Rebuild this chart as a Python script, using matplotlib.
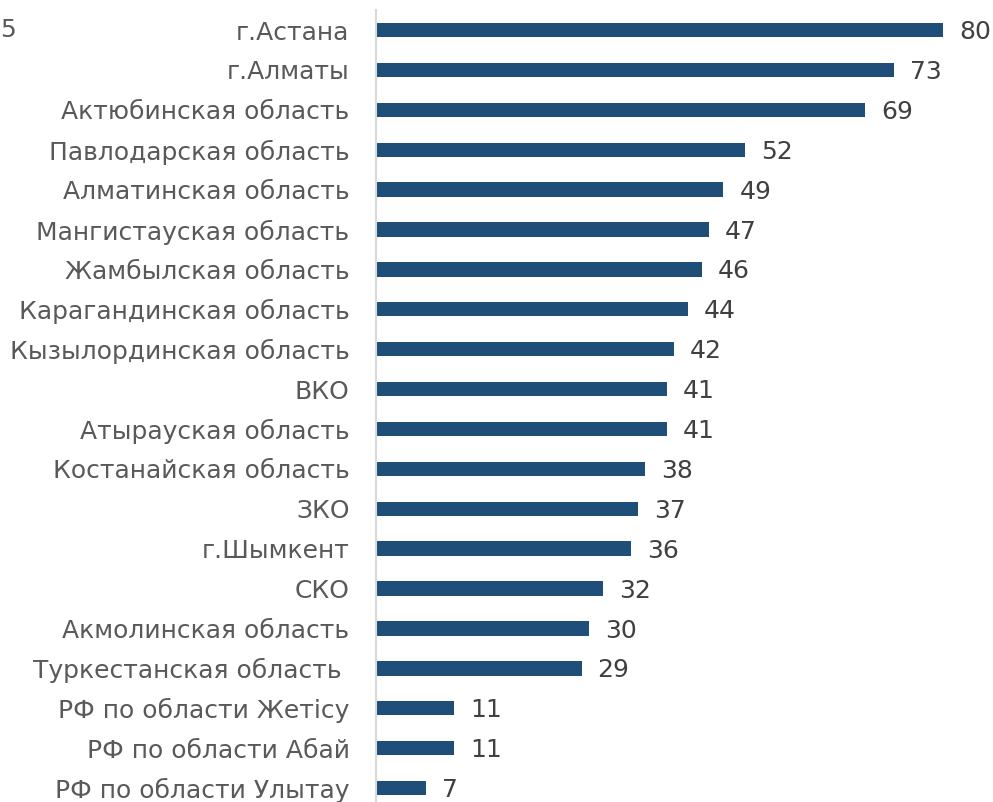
import matplotlib.pyplot as plt

regions = [
    'г.Астана', 'г.Алматы', 'Актюбинская область', 'Павлодарская область',
    'Алматинская область', 'Мангистауская область', 'Жамбылская область',
    'Карагандинская область', 'Кызылординская область', 'ВКО',
    'Атырауская область', 'Костанайская область', 'ЗКО', 'г.Шымкент', 'СКО',
    'Акмолинская область', 'Туркестанская область ', 'РФ по области Жетісу',
    'РФ по области Абай', 'РФ по области Улытау',
]
values = [80, 73, 69, 52, 49, 47, 46, 44, 42, 41, 41, 38, 37, 36, 32, 30, 29, 11, 11, 7]

plt.rcParams['font.family'] = ['DejaVu Sans']

fig = plt.figure(figsize=(9.93, 8.02), dpi=100)
ax = fig.add_axes([376 / 993, 0, (983 - 376) / 993, 1])

pos = list(range(len(regions)))
ax.barh(pos, values, height=0.36, color='#1F4E79')

for p, v in zip(pos, values):
    ax.annotate(str(v), (v, p), xytext=(11.5, -1.5), textcoords='offset points',
                va='center', ha='left', fontsize=18, color='#404040')

ax.set_xlim(0, (983 - 376) / 7.09)
ax.set_ylim(19.35, -0.752)
ax.set_yticks(pos)
ax.set_yticklabels(regions, fontsize=18, color='#595959')
ax.tick_params(axis='y', length=0, pad=19)
ax.set_xticks([])
for s in ['top', 'right', 'bottom']:
    ax.spines[s].set_visible(False)
ax.spines['left'].set_color('#D9D9D9')
ax.spines['left'].set_linewidth(1.5)
ax.spines['left'].set_bounds(-0.5, 19.35)

# fragment of a neighbouring number at the left edge
fig.text(0.0, 1 - 30 / 802, '5', fontsize=18, color='#595959', va='center', ha='left')

fig.savefig('out.png', dpi=100)
